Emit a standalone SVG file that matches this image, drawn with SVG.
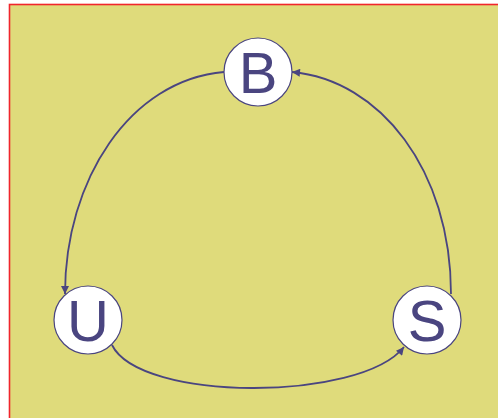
<svg xmlns="http://www.w3.org/2000/svg" width="498" height="418" viewBox="0 0 498 418">
<defs>
<style>
.node circle{fill:#fff;stroke:#4a4580;stroke-width:1.2}
.node text{font-family:"Liberation Sans",Arial,sans-serif;font-size:58px;fill:#4a4580;text-anchor:middle}
.edge{fill:none;stroke:#4a4580;stroke-width:1.8;marker-end:url(#ah)}
</style>
<marker id="ah" viewBox="0 0 10 10" refX="10" refY="5" markerWidth="9" markerHeight="8" markerUnits="userSpaceOnUse" orient="auto"><path d="M0,0 L10,5 L0,10 Z" fill="#4a4580"/></marker>
</defs>
<rect x="0" y="0" width="498" height="418" fill="#fff"/>
<rect x="9.5" y="4.5" width="500" height="430" fill="#dfdb7b" stroke="#f0262c" stroke-width="1.6"/>
<g id="connectors">
<path class="edge" d="M224,72 C130,80 65,180 65,294"/>
<path class="edge" d="M451,294 C451,170 380,80 292,72"/>
<path class="edge" d="M112,345 C140,402 360,402 404,347"/>
</g>
<g id="node-B" class="node"><circle cx="258" cy="72" r="34"/><text x="258" y="93">B</text></g>
<g id="node-U" class="node"><circle cx="88" cy="320" r="34"/><text x="88" y="341">U</text></g>
<g id="node-S" class="node"><circle cx="427" cy="320" r="34"/><text x="427" y="341">S</text></g>
</svg>
